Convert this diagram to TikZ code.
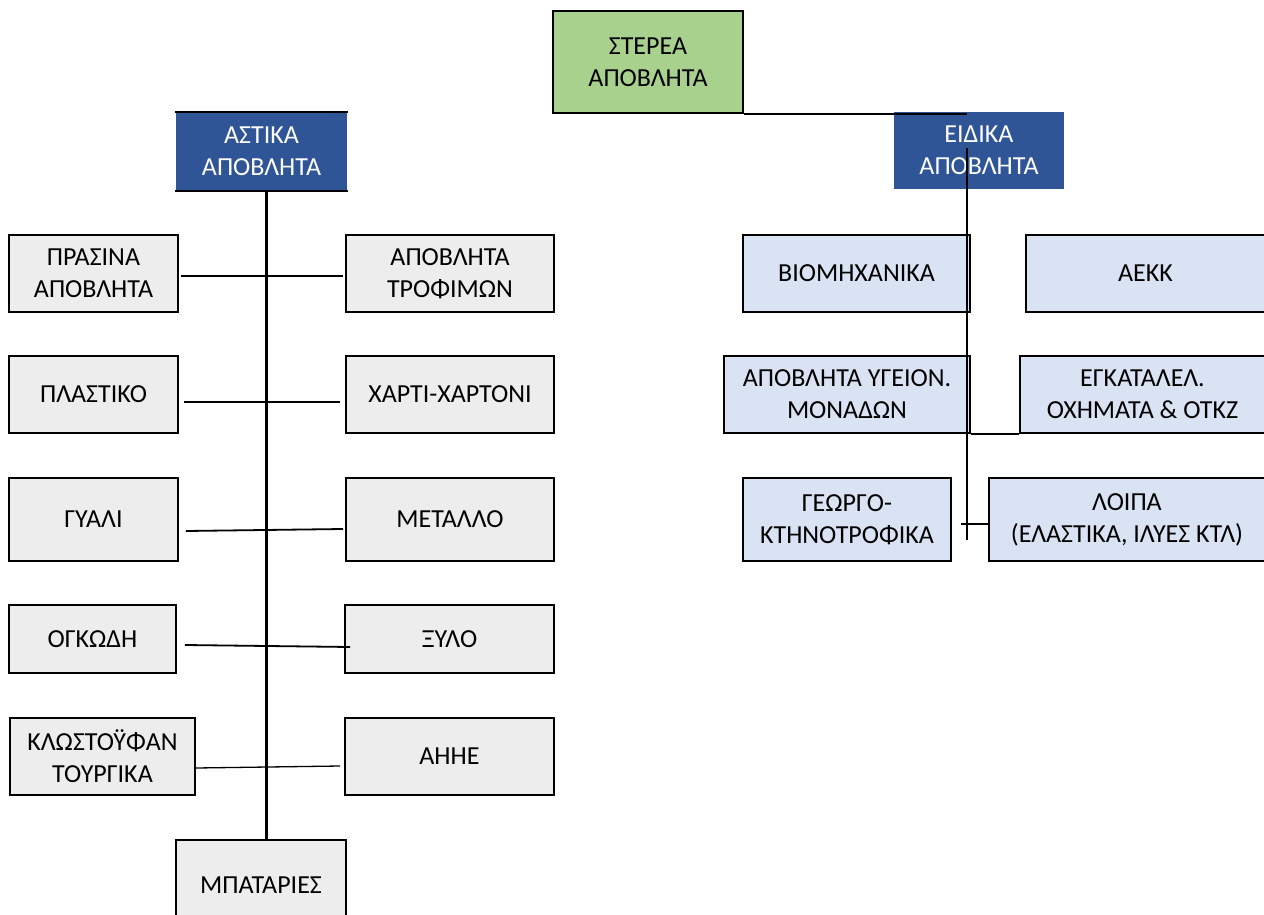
\documentclass[tikz,border=0pt]{standalone}
\usepackage{fontspec}
\setmainfont{Carlito}
\usetikzlibrary{calc}
\definecolor{greyfill}{HTML}{EDEDED}
\definecolor{lightblue}{HTML}{DAE3F3}
\definecolor{darkblue}{HTML}{2F5597}
\definecolor{greenfill}{HTML}{A9D18E}
\begin{document}
\begin{tikzpicture}[x=1pt,y=-1pt,
  box/.style={rectangle,inner sep=0pt,align=center,font=\fontsize{26}{32}\selectfont,draw=black,line width=1.8pt},
  greybox/.style={box,fill=greyfill},
  bluebox/.style={box,fill=lightblue},
  darkbox/.style={box,draw=none,fill=darkblue,text=white},
  greenbox/.style={box,fill=greenfill},
  link/.style={draw=black,line width=1.8pt},
  thinlink/.style={draw=black,line width=1.3pt},
  trunk/.style={draw=black,line width=3pt},
  rtrunk/.style={draw=black,line width=1.8pt}
]
\clip (0,0) rectangle (1264,915);
\fill[white] (0,0) rectangle (1264,915);

% top
\node[greenbox,minimum width=190pt,minimum height=102pt] (stereo) at (648,62) {ΣΤΕΡΕΑ\\ΑΠΟΒΛΗΤΑ};
\node[darkbox,minimum width=171pt,minimum height=77pt] (astika) at (261.5,151.5) {ΑΣΤΙΚΑ\\ΑΠΟΒΛΗΤΑ};
\draw[line width=2pt] (astika.north west) -- (astika.north east);
\draw[line width=2pt] (astika.south west) -- (astika.south east);
\node[darkbox,minimum width=170pt,minimum height=77pt] (eidika) at (979,150.5) {ΕΙΔΙΚΑ\\ΑΠΟΒΛΗΤΑ};

% left column
\node[greybox,minimum width=169pt,minimum height=77pt] (prasina) at (93.5,273.5) {ΠΡΑΣΙΝΑ\\ΑΠΟΒΛΗΤΑ};
\node[greybox,minimum width=208pt,minimum height=77pt] (trofima) at (450,273.5) {ΑΠΟΒΛΗΤΑ\\ΤΡΟΦΙΜΩΝ};
\node[greybox,minimum width=169pt,minimum height=77pt] (plastiko) at (93.5,394.5) {ΠΛΑΣΤΙΚΟ};
\node[greybox,minimum width=208pt,minimum height=77pt] (xarti) at (450,394.5) {ΧΑΡΤΙ-ΧΑΡΤΟΝΙ};
\node[greybox,minimum width=169pt,minimum height=83pt] (gyali) at (93.5,519.5) {ΓΥΑΛΙ};
\node[greybox,minimum width=208pt,minimum height=83pt] (metallo) at (450,519.5) {ΜΕΤΑΛΛΟ};
\node[greybox,minimum width=167pt,minimum height=68pt] (ogkodi) at (92.5,639) {ΟΓΚΩΔΗ};
\node[greybox,minimum width=209pt,minimum height=68pt] (xylo) at (449.5,639) {ΞΥΛΟ};
\node[greybox,minimum width=185pt,minimum height=77pt] (klosto) at (102.5,756.5) {ΚΛΩΣΤΟΫΦΑΝ\\ΤΟΥΡΓΙΚΑ};
\node[greybox,minimum width=209pt,minimum height=77pt] (aihe) at (449.5,756.5) {ΑΗΗΕ};
\node[greybox,minimum width=170pt,minimum height=90pt] (mpat) at (261,885) {ΜΠΑΤΑΡΙΕΣ};

% right column
\node[bluebox,minimum width=227pt,minimum height=77pt] (viom) at (856.5,273.5) {ΒΙΟΜΗΧΑΝΙΚΑ};
\node[bluebox,minimum width=239pt,minimum height=77pt] (aekk) at (1145.5,273.5) {ΑΕΚΚ};
\node[bluebox,minimum width=246pt,minimum height=77pt] (ygeion) at (847,394.5) {ΑΠΟΒΛΗΤΑ ΥΓΕΙΟΝ.\\ΜΟΝΑΔΩΝ};
\node[bluebox,minimum width=245pt,minimum height=77pt] (egkat) at (1142.5,394.5) {ΕΓΚΑΤΑΛΕΛ.\\ΟΧΗΜΑΤΑ \& ΟΤΚΖ};
\node[bluebox,minimum width=208pt,minimum height=83pt] (georgo) at (847,519.5) {ΓΕΩΡΓΟ-\\ΚΤΗΝΟΤΡΟΦΙΚΑ};
\node[bluebox,minimum width=276pt,minimum height=83pt] (loipa) at (1127,519.5) {ΛΟΙΠΑ\\(ΕΛΑΣΤΙΚΑ, ΙΛΥΕΣ ΚΤΛ)};

% connectors top
\coordinate (rtop) at (967,148);
\coordinate (rbot) at (967,540);
\draw[rtrunk] (stereo.south east) -- (stereo.south east -| rtop);
\draw[rtrunk] (rtop) -- (rbot);
\draw[thinlink] (961,524) -- (961,524 -| loipa.west);
\draw[link] (ygeion.south east) -- (egkat.south west);

% left trunk
\draw[trunk] ([xshift=4.5pt]astika.south) -- ([xshift=5pt]mpat.north);
\draw[link] ([xshift=2pt,yshift=-2.5pt]prasina.east) -- ([xshift=-2pt,yshift=-2.5pt]trofima.west);
\draw[link] ([xshift=5pt,yshift=-7.5pt]plastiko.east) -- ([xshift=-5pt,yshift=-7.5pt]xarti.west);
\draw[link] ([xshift=7pt,yshift=-11.5pt]gyali.east) -- ([xshift=-2pt,yshift=-9.5pt]metallo.west);
\draw[link] ([xshift=8pt,yshift=-6pt]ogkodi.east) -- ([xshift=6pt,yshift=-8pt]xylo.west);
\draw[thinlink] ([yshift=-11.5pt]klosto.east) -- ([xshift=-4pt,yshift=-9.5pt]aihe.west);
\end{tikzpicture}
\end{document}
